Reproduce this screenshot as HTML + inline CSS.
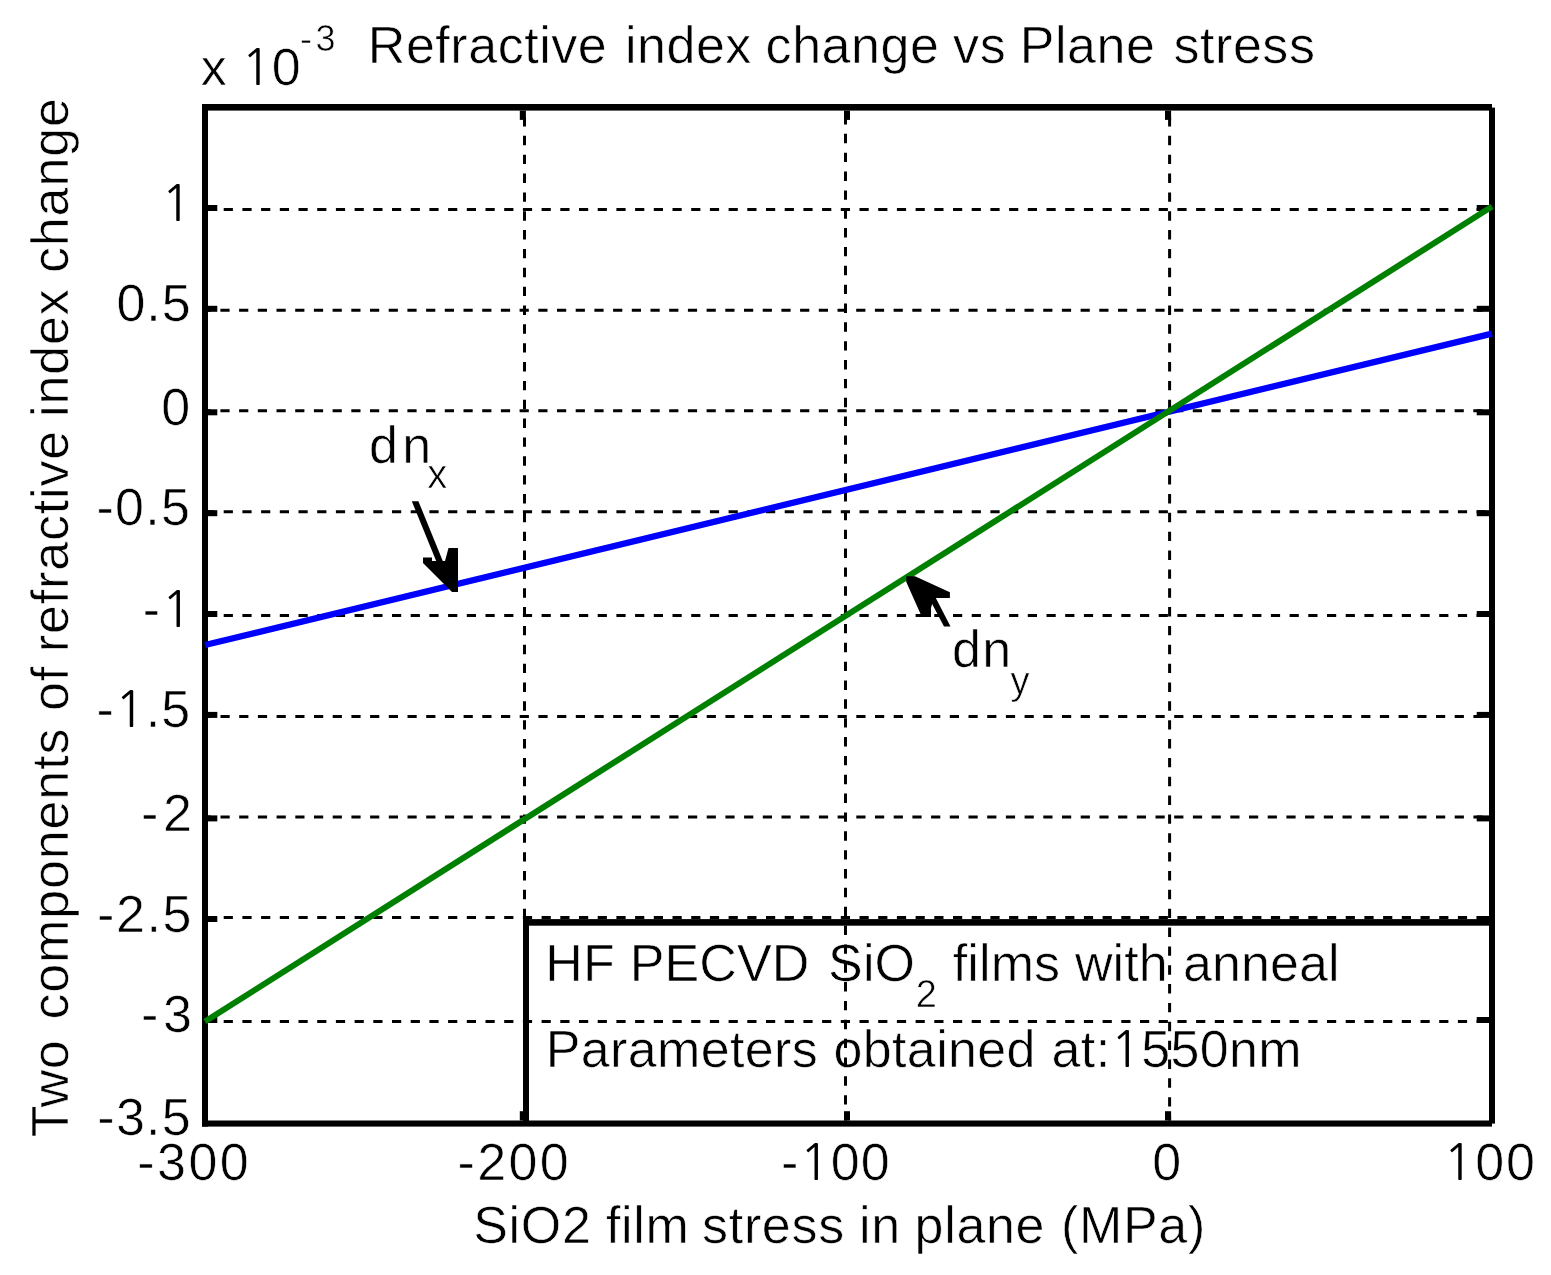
<!DOCTYPE html><html><head><meta charset="utf-8"><title>Refractive index change vs Plane stress</title>
<style>html,body{margin:0;padding:0;background:#fff;}body{width:1551px;height:1275px;overflow:hidden;}svg{display:block;}text{font-family:"Liberation Sans",Arial,sans-serif;fill:#000;stroke:#fff;stroke-width:0.6px;}.one{font-family:NanumGothic,"Liberation Sans",sans-serif;font-size:50px;stroke:none;}</style></head><body>
<svg width="1551" height="1275" viewBox="0 0 1551 1275">
<rect x="0" y="0" width="1551" height="1275" fill="#fff"/>
<text id="t_x10" x="200.70" y="84.80" font-size="52" letter-spacing="0.07">x <tspan class="one">1</tspan>0</text>
<text id="t_exp" x="300.00" y="50.60" font-size="36" letter-spacing="3.40">-3</text>
<text id="t_y0" x="191.50" y="220.80" font-size="52" letter-spacing="0.00" text-anchor="end"><tspan class="one">1</tspan></text>
<text id="t_y1" x="191.70" y="320.80" font-size="52" letter-spacing="1.00" text-anchor="end">0.5</text>
<text id="t_y2" x="190.10" y="424.90" font-size="52" letter-spacing="0.00" text-anchor="end">0</text>
<text id="t_y3" x="191.10" y="525.30" font-size="52" letter-spacing="1.26" text-anchor="end">-0.5</text>
<text id="t_y4" x="192.90" y="626.50" font-size="52" letter-spacing="1.20" text-anchor="end">-<tspan class="one">1</tspan></text>
<text id="t_y5" x="191.10" y="727.00" font-size="52" letter-spacing="0.93" text-anchor="end">-<tspan class="one">1</tspan>.5</text>
<text id="t_y6" x="196.80" y="831.40" font-size="52" letter-spacing="4.80" text-anchor="end">-2</text>
<text id="t_y7" x="193.00" y="931.60" font-size="52" letter-spacing="1.60" text-anchor="end">-2.5</text>
<text id="t_y8" x="196.80" y="1032.00" font-size="52" letter-spacing="4.80" text-anchor="end">-3</text>
<text id="t_y9" x="192.00" y="1135.20" font-size="52" letter-spacing="1.26" text-anchor="end">-3.5</text>
<text id="t_x0" x="137.20" y="1180.00" font-size="52" letter-spacing="2.50">-300</text>
<text id="t_x1" x="457.60" y="1180.00" font-size="52" letter-spacing="2.37">-200</text>
<text id="t_x2" x="781.00" y="1180.00" font-size="52" letter-spacing="1.10">-<tspan class="one">1</tspan>00</text>
<text id="t_x3" x="1152.15" y="1180.00" font-size="52" letter-spacing="0.00">0</text>
<text id="t_x4" x="1443.20" y="1180.00" font-size="52" letter-spacing="1.85"><tspan class="one">1</tspan>00</text>
<text id="t_dnx" x="368.90" y="462.50" font-size="52" letter-spacing="4.40">dn</text>
<text id="t_dnx_s" x="427.20" y="487.80" font-size="40" letter-spacing="0.00">x</text>
<text id="t_dny" x="952.00" y="667.30" font-size="52" letter-spacing="1.40">dn</text>
<text id="t_dny_s" x="1010.40" y="693.80" font-size="38" letter-spacing="0.00">y</text>
<text id="t_box1s" x="915.75" y="1007.20" font-size="38" letter-spacing="0.00">2</text>
<text id="w_title_0" x="367.80" y="63.30" font-size="52" letter-spacing="0.54">Refractive</text>
<text id="w_title_1" x="624.90" y="63.30" font-size="52" letter-spacing="0.54">index</text>
<text id="w_title_2" x="765.60" y="63.30" font-size="52" letter-spacing="0.54">change</text>
<text id="w_title_3" x="953.10" y="63.30" font-size="52" letter-spacing="0.54">vs</text>
<text id="w_title_4" x="1019.70" y="63.30" font-size="52" letter-spacing="0.54">Plane</text>
<text id="w_title_5" x="1173.50" y="63.30" font-size="52" letter-spacing="0.54">stress</text>
<text id="w_xlabel_0" x="473.20" y="1243.00" font-size="52" letter-spacing="0.67">SiO2</text>
<text id="w_xlabel_1" x="606.00" y="1243.00" font-size="52" letter-spacing="0.67">film</text>
<text id="w_xlabel_2" x="702.10" y="1243.00" font-size="52" letter-spacing="0.67">stress</text>
<text id="w_xlabel_3" x="859.10" y="1243.00" font-size="52" letter-spacing="0.67">in</text>
<text id="w_xlabel_4" x="914.60" y="1243.00" font-size="52" letter-spacing="0.67">plane</text>
<text id="w_xlabel_5" x="1061.00" y="1243.00" font-size="52" letter-spacing="0.67">(MPa)</text>
<text id="w_box1_0" x="545.30" y="981.40" font-size="52" letter-spacing="0.10">HF</text>
<text id="w_box1_1" x="629.80" y="981.40" font-size="52" letter-spacing="0.10">PECVD</text>
<text id="w_box1_2" x="828.10" y="981.40" font-size="52" letter-spacing="0.10">SiO</text>
<text id="w_box1_3" x="952.80" y="981.40" font-size="52" letter-spacing="0.10">films</text>
<text id="w_box1_4" x="1074.90" y="981.40" font-size="52" letter-spacing="0.10">with</text>
<text id="w_box1_5" x="1182.90" y="981.40" font-size="52" letter-spacing="0.10">anneal</text>
<text id="w_box2_0" x="545.80" y="1066.70" font-size="52" letter-spacing="0.36">Parameters</text>
<text id="w_box2_1" x="833.50" y="1066.70" font-size="52" letter-spacing="0.36">obtained</text>
<text id="w_box2_2" x="1051.60" y="1066.70" font-size="52" letter-spacing="0.36">at:<tspan class="one">1</tspan>550nm</text>
<text id="w_ylabel_0" transform="translate(68.00,1137.30) rotate(-90)" font-size="52" letter-spacing="0.85">Two</text>
<text id="w_ylabel_1" transform="translate(68.00,1019.50) rotate(-90)" font-size="52" letter-spacing="0.85">components</text>
<text id="w_ylabel_2" transform="translate(68.00,711.00) rotate(-90)" font-size="52" letter-spacing="0.85">of</text>
<text id="w_ylabel_3" transform="translate(68.00,652.20) rotate(-90)" font-size="52" letter-spacing="0.85">refractive</text>
<text id="w_ylabel_4" transform="translate(68.00,416.90) rotate(-90)" font-size="52" letter-spacing="0.85">index</text>
<text id="w_ylabel_5" transform="translate(68.00,273.00) rotate(-90)" font-size="52" letter-spacing="0.85">change</text>
<g stroke="#000" stroke-width="3" fill="none">
<line x1="524.5" y1="1120.5" x2="524.5" y2="110.6" stroke-dasharray="9.40 9.45" stroke-dashoffset="4.95"/>
<line x1="845.5" y1="1120.5" x2="845.5" y2="110.6" stroke-dasharray="9.40 9.45" stroke-dashoffset="2.95"/>
<line x1="1169.6" y1="1120.5" x2="1169.6" y2="110.6" stroke-dasharray="9.40 9.45" stroke-dashoffset="4.95"/>
<line x1="208" y1="209.5" x2="1489" y2="209.5" stroke-dasharray="9.20 9.50" stroke-dashoffset="3.00"/>
<line x1="208" y1="310.3" x2="1489" y2="310.3" stroke-dasharray="9.20 9.50" stroke-dashoffset="6.30"/>
<line x1="208" y1="410.8" x2="1489" y2="410.8" stroke-dasharray="9.20 9.50" stroke-dashoffset="6.30"/>
<line x1="208" y1="511.7" x2="1489" y2="511.7" stroke-dasharray="9.20 9.50" stroke-dashoffset="3.00"/>
<line x1="208" y1="615.5" x2="1489" y2="615.5" stroke-dasharray="9.20 9.50" stroke-dashoffset="3.00"/>
<line x1="208" y1="716.4" x2="1489" y2="716.4" stroke-dasharray="9.20 9.50" stroke-dashoffset="6.20"/>
<line x1="208" y1="816.9" x2="1489" y2="816.9" stroke-dasharray="9.20 9.50" stroke-dashoffset="6.20"/>
<line x1="208" y1="917.5" x2="1489" y2="917.5" stroke-dasharray="9.20 9.50" stroke-dashoffset="3.00"/>
<line x1="208" y1="1021.5" x2="1489" y2="1021.5" stroke-dasharray="9.20 9.50" stroke-dashoffset="3.00"/>
</g>
<g fill="#000">
<rect x="519.8" y="110.6" width="6.1" height="9.3"/>
<rect x="519.8" y="1111.2" width="6.1" height="9.3"/>
<rect x="844.0" y="110.6" width="6.0" height="9.3"/>
<rect x="844.0" y="1111.2" width="6.0" height="9.3"/>
<rect x="1165.0" y="110.6" width="6.1" height="9.3"/>
<rect x="1165.0" y="1111.2" width="6.1" height="9.3"/>
<rect x="208" y="205.0" width="9.3" height="6"/>
<rect x="1476.7" y="205.0" width="12.4" height="6"/>
<rect x="208" y="305.8" width="9.3" height="6"/>
<rect x="1476.7" y="305.8" width="12.4" height="6"/>
<rect x="208" y="409.3" width="9.3" height="6"/>
<rect x="1476.7" y="409.3" width="12.4" height="6"/>
<rect x="208" y="510.2" width="9.3" height="6"/>
<rect x="1476.7" y="510.2" width="12.4" height="6"/>
<rect x="208" y="611.0" width="9.3" height="6"/>
<rect x="1476.7" y="611.0" width="12.4" height="6"/>
<rect x="208" y="711.9" width="9.3" height="6"/>
<rect x="1476.7" y="711.9" width="12.4" height="6"/>
<rect x="208" y="815.4" width="9.3" height="6"/>
<rect x="1476.7" y="815.4" width="12.4" height="6"/>
<rect x="208" y="916.0" width="9.3" height="6"/>
<rect x="1476.7" y="916.0" width="12.4" height="6"/>
<rect x="208" y="1017.0" width="9.3" height="6"/>
<rect x="1476.7" y="1017.0" width="12.4" height="6"/>
</g>
<g fill="#000">
<rect x="523" y="919.1" width="966" height="6.6"/>
<rect x="523" y="919.1" width="6" height="202"/>
<rect x="202" y="104" width="1290" height="6.6"/>
<rect x="202" y="104" width="6" height="1022.6"/>
<rect x="1489" y="107.6" width="6" height="1016"/>
<rect x="202" y="1120.5" width="1290" height="6.1"/>
</g>
<line x1="205" y1="645.0" x2="1492" y2="333.6" stroke="#0000ff" stroke-width="6.3"/>
<line x1="205" y1="1021.5" x2="1492" y2="206.5" stroke="#008000" stroke-width="6.0"/>
<polygon points="411.8,501.2 418.4,501.2 444,564 437.4,564" fill="#000"/>
<polygon points="423,557.5 432,557.5 432,561 445,561 448.5,548 458,548 458,592 452,592 423,563" fill="#000"/>
<polygon points="929,598 935.8,598 950.5,626.5 944,626.5" fill="#000"/>
<polygon points="906.3,576.3 915,576.3 949.9,592.2 949.9,597.9 934,597.9 931,607.8 931,616.9 921.9,616.9 906.3,582" fill="#000"/>
</svg></body></html>
